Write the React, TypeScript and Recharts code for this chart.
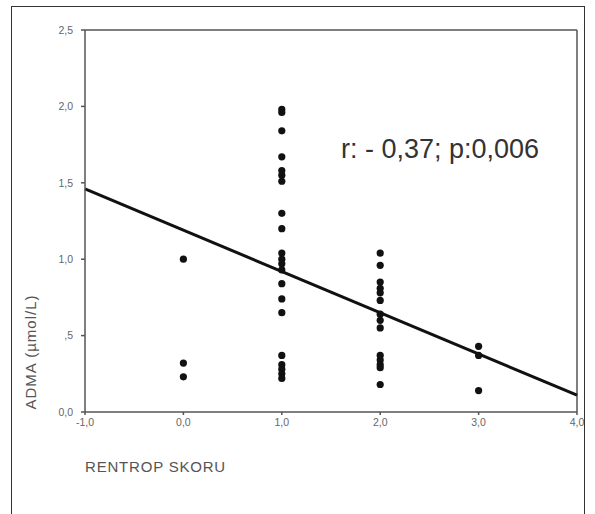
import React from 'react';
import { ScatterChart, Scatter, XAxis, YAxis, ReferenceLine } from 'recharts';

// Rentrop score groups and ADMA values (µmol/L)
const RENTROP_0 = [1.0, 0.32, 0.23];
const RENTROP_1 = [1.98, 1.96, 1.84, 1.67, 1.58, 1.55, 1.51, 1.3, 1.2, 1.04, 1.0, 0.97, 0.93, 0.84, 0.74, 0.65, 0.37, 0.31, 0.28, 0.25, 0.22];
const RENTROP_2 = [1.04, 0.96, 0.85, 0.81, 0.78, 0.73, 0.64, 0.6, 0.55, 0.37, 0.34, 0.31, 0.29, 0.18];
const RENTROP_3 = [0.43, 0.37, 0.14];

const X_TICKS = [-1, 0, 1, 2, 3, 4];
const Y_TICKS = [0, 0.5, 1, 1.5, 2, 2.5];

// fit line end points
const FIT_START = { x: -1, y: 1.46 };
const FIT_END = { x: 4, y: 0.11 };

const points = [
  ...RENTROP_0.map(v => ({ x: 0, y: v })),
  ...RENTROP_1.map(v => ({ x: 1, y: v })),
  ...RENTROP_2.map(v => ({ x: 2, y: v })),
  ...RENTROP_3.map(v => ({ x: 3, y: v })),
];

const fmtX = (v: number) => v.toFixed(1).replace('.', ',');
const fmtY = (v: number) => (v === 0.5 ? ',5' : v.toFixed(1).replace('.', ','));

const tickStyle = { fontSize: 10.5, fill: '#666', fontFamily: 'Liberation Sans, Arial, sans-serif' };

const App: React.FC = () => {
  return (
    <div style={{ position: 'absolute', left: 0, top: 0, width: 595, height: 514, background: '#fff', overflow: 'hidden', fontFamily: 'Liberation Sans, Arial, sans-serif' }}>
      {/* outer frame */}
      <div style={{ position: 'absolute', left: 11, top: 6, width: 574, height: 520, border: '1.5px solid #333', boxSizing: 'border-box' }} />
      <div style={{ position: 'absolute', left: 0, top: 0 }}>
        <ScatterChart width={595} height={514} margin={{ top: 30, right: 18, left: 0, bottom: 72 }}>
          <XAxis
            type="number"
            dataKey="x"
            domain={[-1, 4]}
            ticks={X_TICKS}
            tickFormatter={fmtX}
            tick={tickStyle}
            tickSize={3}
            tickMargin={4}
            height={30}
            stroke="#555"
            strokeWidth={1.5}
            allowDataOverflow
          />
          <YAxis
            type="number"
            dataKey="y"
            domain={[0, 2.5]}
            ticks={Y_TICKS}
            tickFormatter={fmtY}
            tick={tickStyle}
            tickSize={4}
            tickMargin={8}
            width={85}
            stroke="#555"
            strokeWidth={1.5}
            allowDataOverflow
          />
          <ReferenceLine y={2.5} stroke="#555" strokeWidth={1.5} />
          <ReferenceLine x={4} stroke="#555" strokeWidth={1.5} />
          <ReferenceLine segment={[FIT_START, FIT_END]} stroke="#111" strokeWidth={3} />
          <Scatter data={points} fill="#111" isAnimationActive={false} shape={(p: any) => <circle cx={p.cx} cy={p.cy} r={3.6} fill="#111" />} />
        </ScatterChart>
      </div>
      <div style={{ position: 'absolute', left: 341, top: 134, fontSize: 27, color: '#333', whiteSpace: 'nowrap' }}>
        r: - 0,37; p:0,006
      </div>
      <div style={{ position: 'absolute', left: 85, top: 458, fontSize: 15, color: '#555', whiteSpace: 'nowrap', letterSpacing: 0.8 }}>
        RENTROP SKORU
      </div>
      <div style={{ position: 'absolute', left: 30, top: 352, transform: 'translate(-50%, -50%) rotate(-90deg)', fontSize: 15, color: '#555', whiteSpace: 'nowrap', letterSpacing: 1 }}>
        ADMA (µmol/L)
      </div>
    </div>
  );
};

export default App;
